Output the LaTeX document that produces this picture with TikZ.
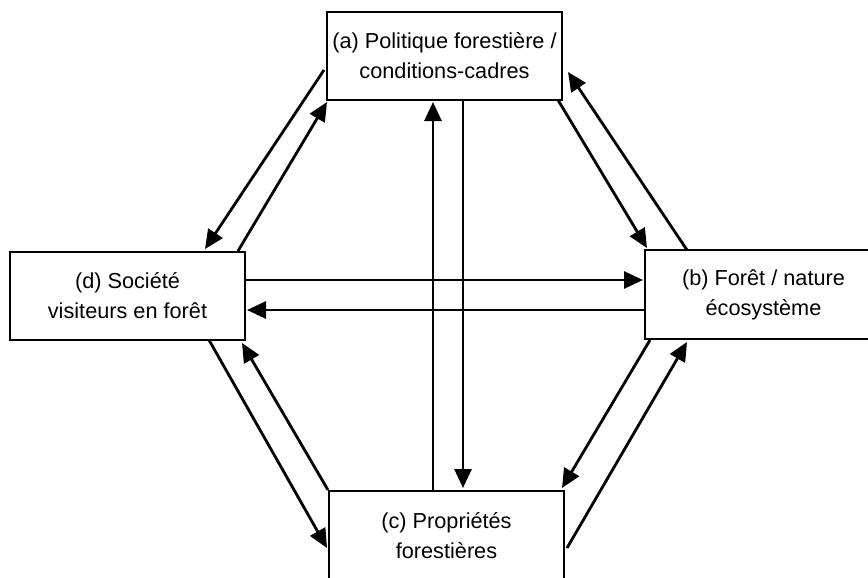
\documentclass[tikz,border=0pt]{standalone}
\usepackage{fontspec}
\setmainfont{Liberation Sans}
\usetikzlibrary{arrows.meta,calc}
\begin{document}
\begin{tikzpicture}[x=1pt,y=-1pt,
  box/.style={draw,line width=2.8pt,minimum width=235pt,minimum height=88pt,inner sep=0pt,outer sep=0pt,align=center,font=\fontsize{21.7}{30}\selectfont},
  link/.style={line width=2.8pt,-{Triangle[length=19pt,width=17pt]}}]
\useasboundingbox (0,0) rectangle (868,578);
\clip (0,0) rectangle (868,578);
\node[box] (a) at (444.5,56) {(a) Politique forestière /\\conditions-cadres};
\node[box] (d) at (127.5,296) {(d) Société\\visiteurs en forêt};
\node[box,minimum width=237pt,minimum height=89pt] (b) at (763.5,294.5) {(b) Forêt / nature\\écosystème};
\node[box,minimum height=89pt] (c) at (446.5,535.5) {(c) Propriétés\\forestières};
% diagonal links
\draw[link] ([shift={(-3,-30)}]a.south west) -- ([shift={(-40,-3)}]d.north east);
\draw[link] ([shift={(-7,-1)}]d.north east) -- ([shift={(0,2)}]a.south west);
\draw[link] ([shift={(-4,0)}]a.south east) -- ([shift={(2,-2)}]b.north west);
\draw[link] ([shift={(42,0)}]b.north west) -- ([shift={(6,-28)}]a.south east);
\draw[link] ([shift={(-36,0)}]d.south east) -- ([shift={(-2,57)}]c.north west);
\draw[link] ([shift={(-1,-1)}]c.north west) -- ([shift={(-3,3)}]d.south east);
\draw[link] ([shift={(5,1)}]b.south west) -- ([shift={(-2,-3)}]c.north east);
\draw[link] ([shift={(3,57)}]c.north east) -- ([shift={(42,3)}]b.south west);
% horizontal links
\draw[link] ([shift={(0,-16)}]d.east) -- ([shift={(-2,-14.5)}]b.west);
\draw[link] ([shift={(0,15.5)}]b.west) -- ([shift={(2,14)}]d.east);
% vertical links
\draw[link] ([shift={(-13.5,0)}]c.north) -- ([shift={(-11.5,2)}]a.south);
\draw[link] ([shift={(18.5,0)}]a.south) -- ([shift={(16.5,-3)}]c.north);
\end{tikzpicture}
\end{document}
